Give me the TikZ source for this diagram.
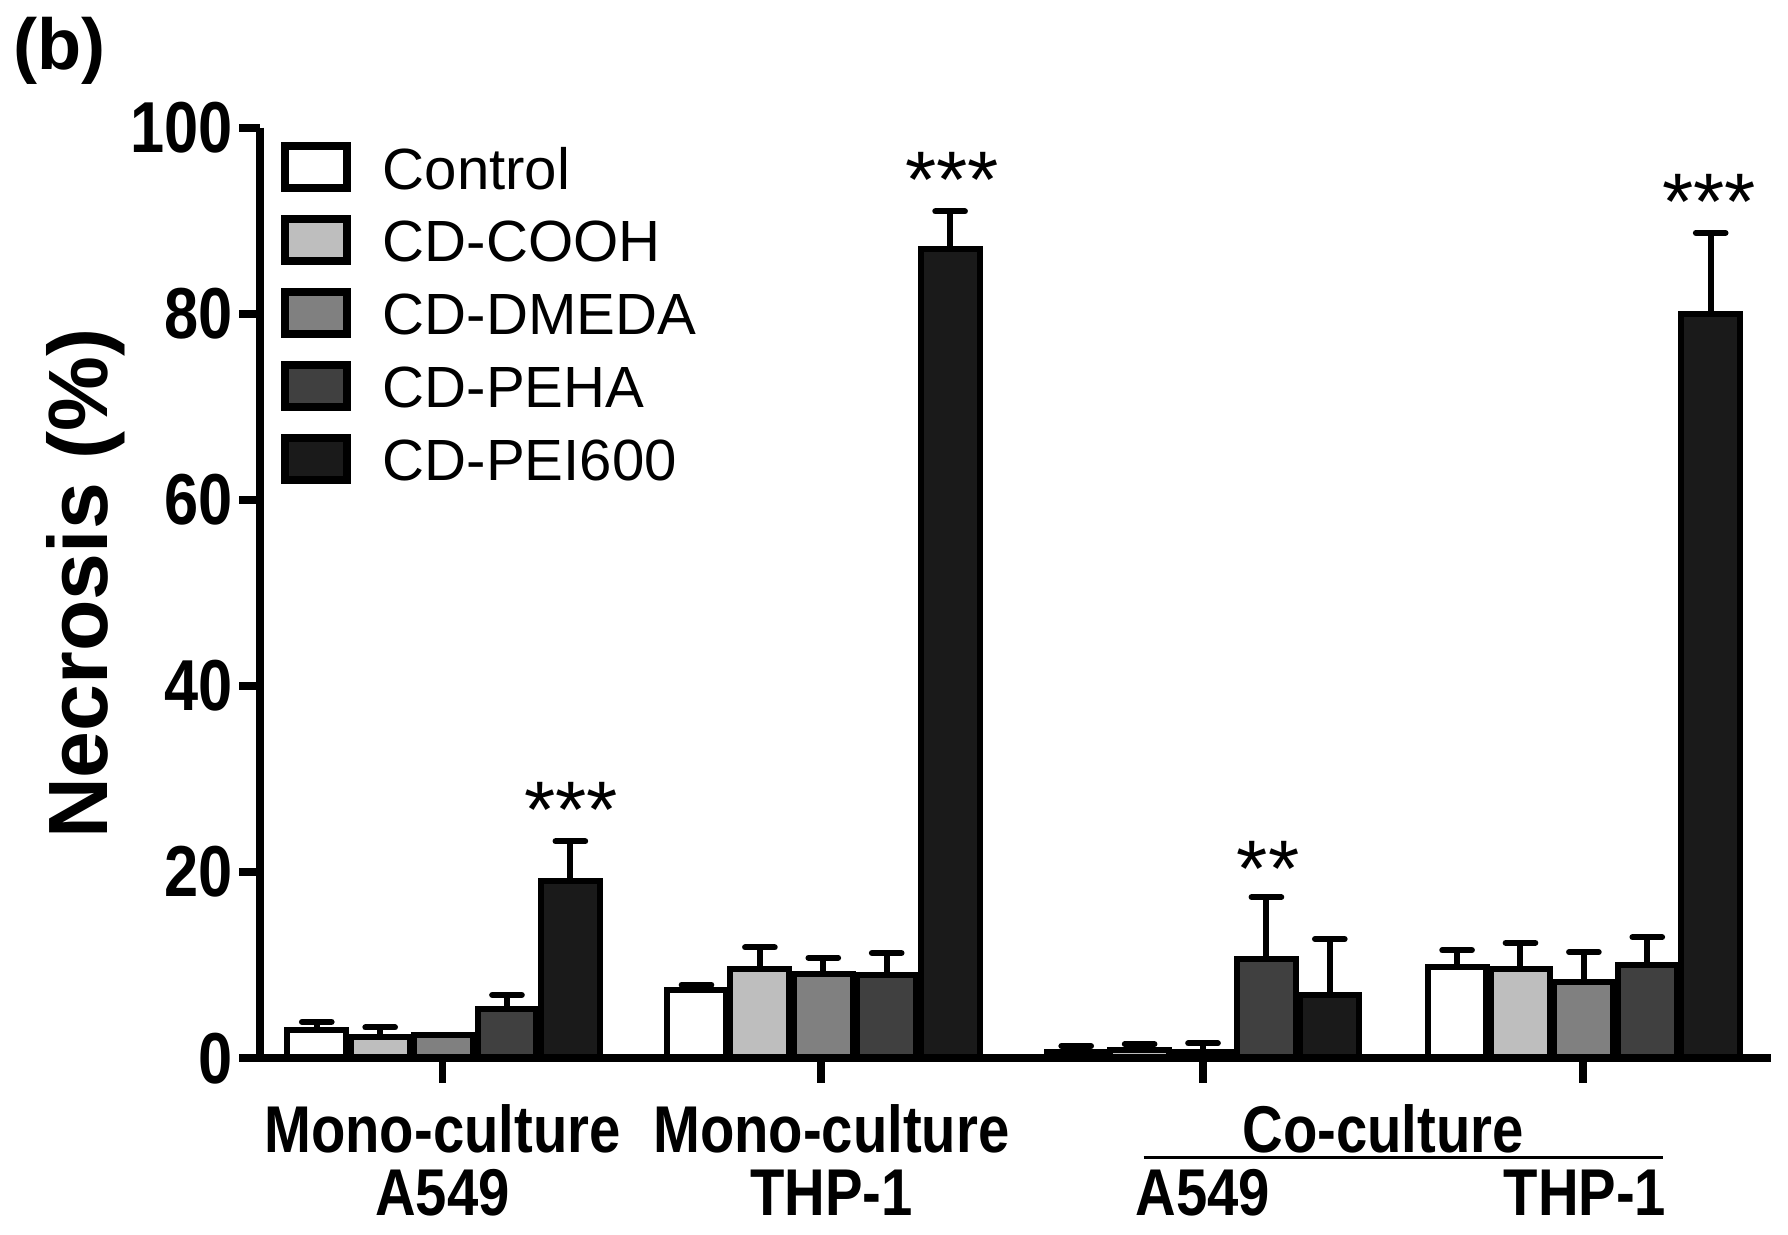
\documentclass[tikz,border=0pt]{standalone}
\usepackage{fontspec}
\setmainfont{Liberation Sans}
\begin{document}
\begin{tikzpicture}[x=0.01cm,y=-0.01cm,
  barline/.style={line width=1.5pt,draw=black},
  axisline/.style={line width=1.9pt},
  ticklab/.style={font=\bfseries\fontsize{18}{18}\selectfont,anchor=east,inner sep=0pt},
  grplab/.style={font=\bfseries\fontsize{16.5}{16.5}\selectfont,inner sep=0pt},
  leglab/.style={font=\fontsize{14.5}{14.5}\selectfont,anchor=west,inner sep=0pt},
  star/.style={font=\fontsize{20}{20}\selectfont,inner sep=0pt,anchor=south}]
\definecolor{c1}{HTML}{FFFFFF}
\definecolor{c2}{HTML}{BEBEBE}
\definecolor{c3}{HTML}{808080}
\definecolor{c4}{HTML}{404040}
\definecolor{c5}{HTML}{1A1A1A}
\useasboundingbox (0,0) rectangle (1568,1083);
\node[font=\bfseries\fontsize{18}{18}\selectfont] (lb) at (52,45) {(b)};
\foreach \gx/\va/\ea/\vb/\eb/\vc/\ec/\vd/\ed/\ve/\ee in {
  250/3/3.9/2.3/3.3/2.5/2.5/5.3/6.8/19/23.3,
  583/7.3/7.9/9.6/11.9/9/10.8/8.9/11.3/87/91,
  916/0.7/1.3/0.9/1.5/0.7/1.6/10.7/17.3/6.8/12.8,
  1250/9.8/11.6/9.6/12.4/8.2/11.4/10/13/80/88.7}{
  \foreach \i/\v/\e/\c in {0/\va/\ea/c1,1/\vb/\eb/c2,2/\vc/\ec/c3,3/\vd/\ed/c4,4/\ve/\ee/c5}{
    \pgfmathsetmacro\xl{\gx+\i*55.6}
    \pgfmathsetmacro\xm{\xl+27.8}
    \pgfmathsetmacro\yt{928-8.16*\v}
    \pgfmathsetmacro\ye{928-8.16*\e}
    \draw[line width=1.5pt] (\xm,\yt) -- (\xm,\ye);
    \draw[line width=1.5pt,line cap=round] (\xm-13,\ye) -- (\xm+13,\ye);
    \filldraw[barline,fill=\c] (\xl+2,928) rectangle (\xl+53.6,\yt);
  }
}
\draw[axisline] (228,112) -- (228,928) -- (1553,928);
\foreach \v in {0,20,40,60,80,100}{
  \pgfmathsetmacro\yy{928-8.16*\v}
  \draw[axisline] (210,\yy) -- (228,\yy);
  \node[ticklab] (t\v) at (205,\yy) {\scalebox{0.85}[1]{\v}};
}
\foreach \xx in {388,720,1055,1388}{\draw[axisline] (\xx,928) -- (\xx,950);}
\node[rotate=90,font=\bfseries\fontsize{21}{21}\selectfont] (yl) at (75,512) {Necrosis (\%)};
\foreach \c/\t [count=\k from 0] in {c1/Control,c2/CD-COOH,c3/CD-DMEDA,c4/CD-PEHA,c5/CD-PEI600}{
  \filldraw[line width=2pt,fill=\c] (250,128+\k*64) rectangle (304,165+\k*64);
  \node[leglab] (lg\k) at (335,148+\k*64) {\t};
}
\node[star] (s1) at (501,735) {***};
\node[star] (s2) at (835,183) {***};
\node[star] (s3) at (1112,787) {**};
\node[star] (s4) at (1499,202) {***};
\node[grplab] (g1) at (388,990) {\scalebox{0.85}[1]{Mono-culture}};
\node[grplab] (g1b) at (388,1046) {\scalebox{0.85}[1]{A549}};
\node[grplab] (g2) at (729,990) {\scalebox{0.85}[1]{Mono-culture}};
\node[grplab] (g2b) at (729,1046) {\scalebox{0.85}[1]{THP-1}};
\node[grplab] (g3) at (1213,990) {\scalebox{0.85}[1]{Co-culture}};
\node[grplab] (g3a) at (1055,1046) {\scalebox{0.85}[1]{A549}};
\node[grplab] (g3b) at (1390,1046) {\scalebox{0.85}[1]{THP-1}};
\coordinate (la) at (1003,1015);
\coordinate (lc) at (1458,1015);
\draw[line width=0.8pt] (la) -- (lc);
\end{tikzpicture}
\end{document}
